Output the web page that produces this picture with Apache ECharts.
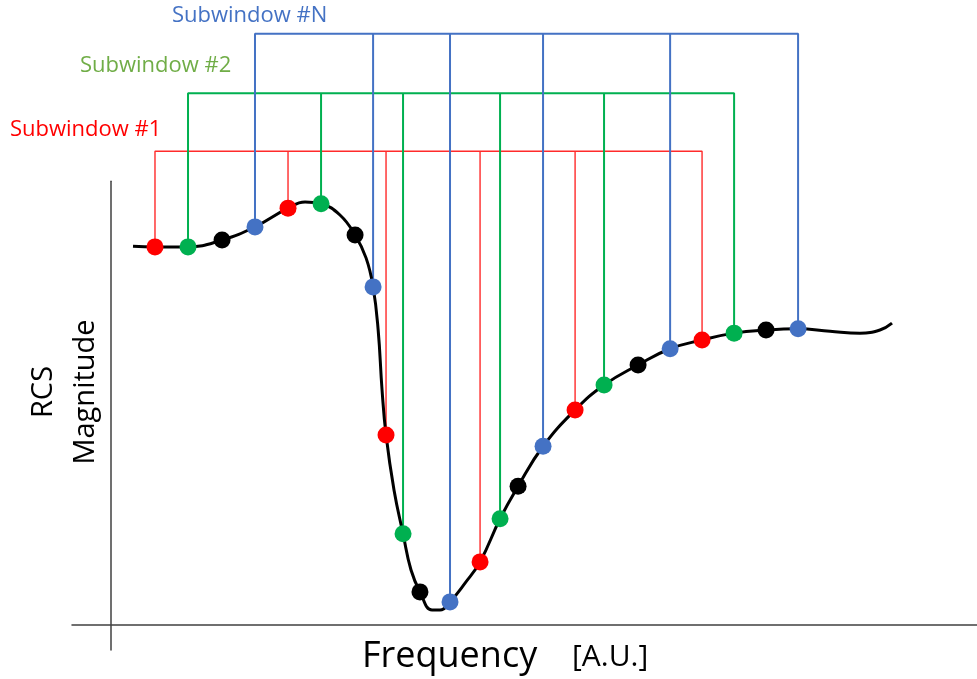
<!DOCTYPE html>
<html>
<head>
<meta charset="utf-8">
<title>RCS magnitude vs frequency – subwindow sampling</title>
<script src="https://cdn.jsdelivr.net/npm/echarts@6/dist/echarts.min.js"></script>
<style>
  html, body { margin: 0; padding: 0; background: #ffffff; }
  #chart { width: 977px; height: 679px; }
</style>
</head>
<body>
<div id="chart"></div>
<script>
// Sample points along the RCS response (frequency and magnitude in arbitrary units)
const dotFreq = [4.87, 8.52, 12.28, 15.92, 19.57, 23.22, 26.98, 28.97, 30.40, 32.28, 34.15, 37.47,
                 40.79, 43.00, 44.99, 47.75, 51.29, 54.49, 58.25, 61.79, 65.32, 68.86, 72.39, 75.93];
const dotMag  = [60.5, 60.5, 61.6, 63.7, 66.7, 67.4, 62.4, 54.1, 30.4, 14.6, 5.3, 3.7,
                 10.1, 17.0, 22.2, 28.6, 34.4, 38.4, 41.6, 44.2, 45.6, 46.7, 47.2, 47.4];
// Which subwindow each sample belongs to ('k' = sample not shown in a subwindow)
const dotGroup = ['1', '2', 'k', 'N', '1', '2', 'k', 'N', '1', '2', 'k', 'N',
                  '1', '2', 'k', 'N', '1', '2', 'k', 'N', '1', '2', 'k', 'N'];

// Extra points that shape the continuous response between/around samples
const curveFreq = [2.44, 21.45, 25.31, 28.20, 29.53, 29.96, 31.28, 33.16, 35.48, 36.37, 39.13,
                   79.46, 82.77, 84.98, 86.31];
const curveMag  = [60.6, 67.7, 65.6, 58.7, 47.2, 37.6, 21.6, 8.8, 2.4, 2.4, 6.7,
                   47.0, 46.7, 47.2, 48.3];

// Subwindows: label, colour, bracket level (magnitude units), line width
const subwindowKeys   = ['1', '2', 'N'];
const subwindowNames  = ['Subwindow #1', 'Subwindow #2', 'Subwindow #N'];
const subwindowColors = ['#ff2b2b', '#00b050', '#4472c4'];
const subwindowText   = ['#ff0000', '#70ad47', '#4472c4'];
const bracketLevel    = [75.8, 85.1, 94.6];
const bracketWidth    = [1.4, 2, 2];

const dotColors = { '1': '#ff0000', '2': '#00b050', 'N': '#4472c4', 'k': '#000000' };

// Continuous curve = samples + shape points, ordered by frequency
const curve = dotFreq.map((f, i) => [f, dotMag[i]])
  .concat(curveFreq.map((f, i) => [f, curveMag[i]]))
  .sort((a, b) => a[0] - b[0]);

// Comb-shaped bracket: a stem up from each sample of the subwindow,
// joined across the top at the bracket level
function bracketPath(key, level) {
  const idx = dotFreq.map((f, i) => i).filter(i => dotGroup[i] === key);
  const pts = [];
  idx.forEach((i, n) => {
    if (n === 0) {
      pts.push([dotFreq[i], dotMag[i]]);
      pts.push([dotFreq[i], level]);
    } else {
      pts.push([dotFreq[i], level]);
      pts.push([dotFreq[i], dotMag[i]]);
      if (n < idx.length - 1) pts.push([dotFreq[i], level]);
    }
  });
  return pts;
}

const series = [];

subwindowKeys.forEach((key, k) => {
  series.push({
    name: subwindowNames[k] + ' bracket',
    type: 'line',
    data: bracketPath(key, bracketLevel[k]),
    showSymbol: false,
    clip: false,
    z: 2 + k,
    lineStyle: { color: subwindowColors[k], width: bracketWidth[k] }
  });
});

series.push({
  name: 'RCS',
  type: 'line',
  data: curve,
  smooth: 0.45,
  showSymbol: false,
  clip: false,
  z: 6,
  lineStyle: { color: '#000000', width: 3 }
});

['1', '2', 'k', 'N'].forEach(key => {
  series.push({
    name: 'samples ' + key,
    type: 'scatter',
    data: dotFreq.map((f, i) => [f, dotMag[i], dotGroup[i]]).filter(d => d[2] === key).map(d => [d[0], d[1]]),
    symbol: 'circle',
    symbolSize: 17,
    clip: false,
    z: 8,
    itemStyle: { color: dotColors[key], opacity: 1 }
  });
});

const textFont = '"Open Sans", "Liberation Sans", sans-serif';

const chart = echarts.init(document.getElementById('chart'), null, { renderer: 'canvas' });
chart.setOption({
  animation: false,
  backgroundColor: '#ffffff',
  grid: { left: 72, right: 0, top: 181.25, bottom: 29, containLabel: false },
  xAxis: {
    type: 'value',
    min: -4.3,
    max: 95.7,
    axisLine: { show: true, onZero: true, lineStyle: { color: '#404040', width: 1.5 } },
    axisTick: { show: false },
    axisLabel: { show: false },
    splitLine: { show: false }
  },
  yAxis: {
    type: 'value',
    min: -4,
    max: 71,
    axisLine: { show: true, onZero: true, lineStyle: { color: '#404040', width: 1.5 } },
    axisTick: { show: false },
    axisLabel: { show: false },
    splitLine: { show: false }
  },
  graphic: [
    { type: 'text', left: 10, top: 119, style: { text: subwindowNames[0], fill: subwindowText[0], font: '22px ' + textFont } },
    { type: 'text', left: 80, top: 55, style: { text: subwindowNames[1], fill: subwindowText[1], font: '22px ' + textFont } },
    { type: 'text', left: 172, top: 5, style: { text: subwindowNames[2], fill: subwindowText[2], font: '22px ' + textFont } },
    { type: 'text', left: 362, top: 639, style: { text: 'Frequency', fill: '#000000', font: '36px ' + textFont } },
    { type: 'text', left: 572, top: 642, style: { text: '[A.U.]', fill: '#000000', font: '30px ' + textFont } },
    { type: 'text', x: 44, y: 392, rotation: Math.PI / 2,
      style: { text: 'RCS', fill: '#000000', font: '29px ' + textFont, align: 'center', verticalAlign: 'middle' } },
    { type: 'text', x: 86, y: 392, rotation: Math.PI / 2,
      style: { text: 'Magnitude', fill: '#000000', font: '29px ' + textFont, align: 'center', verticalAlign: 'middle' } }
  ],
  series: series
});
</script>
</body>
</html>
